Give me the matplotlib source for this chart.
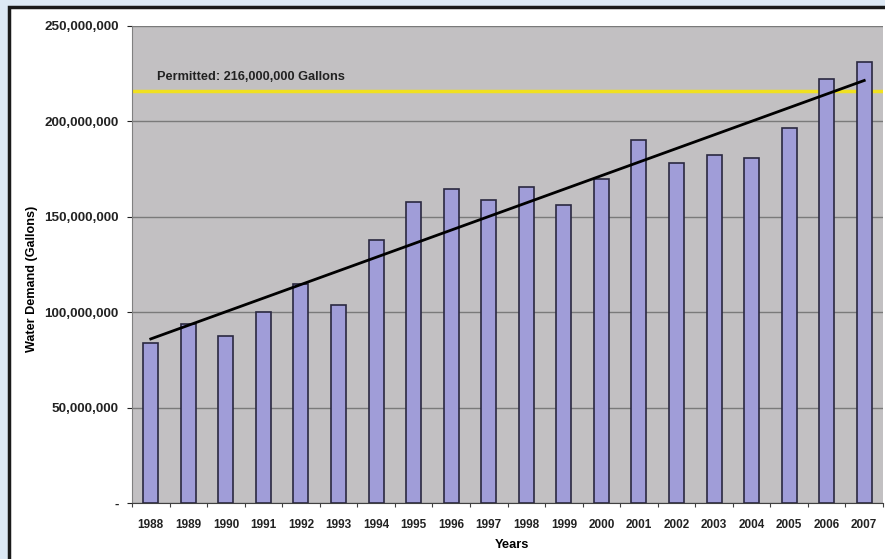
import numpy as np
import matplotlib.pyplot as plt
from matplotlib.patches import Rectangle
from matplotlib.ticker import FuncFormatter

plt.rcParams['font.family'] = ['Liberation Sans', 'DejaVu Sans']

years = [str(y) for y in range(1988, 2008)]
demand = [83.8, 93.7, 87.4, 100.0, 114.7, 103.7, 138.0, 158.0, 164.4, 159.0,
          165.4, 156.0, 169.6, 190.0, 178.0, 182.2, 181.0, 196.5, 222.0, 231.0]
demand = [v * 1e6 for v in demand]
permitted = 216e6
permitted_label = "Permitted: 216,000,000 Gallons"

fig = plt.figure(figsize=(8.85, 5.59), dpi=100)
fig.patch.set_facecolor("#dde9f5")

# white panel with dark frame (cut at right/bottom like the source)
panel = Rectangle((9 / 885, -0.05), 1.0, (559 - 7) / 559 + 0.05,
                  transform=fig.transFigure, facecolor="white",
                  edgecolor="#1a1a1a", linewidth=2.5, zorder=-1)
fig.add_artist(panel)

ax = fig.add_axes([132 / 885, (559 - 503) / 559, (883 - 132) / 885, (503 - 26) / 559])
ax.set_facecolor("#c2c0c2")

x = np.arange(len(years))
ax.bar(x, demand, width=0.4, color="#a09dd8", edgecolor="#2a2840", linewidth=1.2, zorder=3)

# linear trend line
coef = np.polyfit(x, demand, 1)
ax.plot([x[0], x[-1]], np.polyval(coef, [x[0], x[-1]]), color="black", linewidth=2, zorder=4)

ax.axhline(permitted, color="#f0e020", linewidth=2.5, zorder=2)
ax.text(0.17, 223.5e6, permitted_label, fontsize=9.2, fontweight="bold",
        color="#222222", va="center", zorder=5)

ax.set_xlim(-0.5, len(years) - 0.5)
ax.set_ylim(0, 250e6)
ax.set_yticks(np.arange(0, 250e6 + 1, 50e6))
ax.yaxis.set_major_formatter(FuncFormatter(lambda v, p: "-" if v == 0 else f"{v:,.0f}"))
ax.set_xticks(x)
ax.set_xticklabels(years)
ax.set_xticks(np.arange(-0.5, len(years), 1.0), minor=True)
ax.grid(axis="y", color="#7a7a7a", linewidth=1, zorder=1)
ax.set_axisbelow(True)

for s in ["top", "right"]:
    ax.spines[s].set_visible(False)
ax.spines["left"].set_color("#808080")
ax.spines["bottom"].set_color("#404040")
ax.tick_params(axis="y", labelsize=9.7, colors="#222222", length=3.6, width=0.8, pad=6)
ax.tick_params(axis="x", which="major", labelsize=8.5, colors="#222222", length=0, pad=11.5)
ax.tick_params(axis="x", which="minor", length=3, width=0.8, colors="#404040")
for lbl in ax.get_xticklabels() + ax.get_yticklabels():
    lbl.set_fontweight("bold")

ax.set_xlabel("Years", fontsize=9.3, fontweight="bold")
ax.set_ylabel("Water Demand (Gallons)", fontsize=9.1, fontweight="bold")
ax.xaxis.set_label_coords((512 - 132) / 751, -36 / 477)
ax.yaxis.set_label_coords(-94 / 751, (503 - 279) / 477)

fig.savefig("out.png", dpi=100, facecolor=fig.get_facecolor())
